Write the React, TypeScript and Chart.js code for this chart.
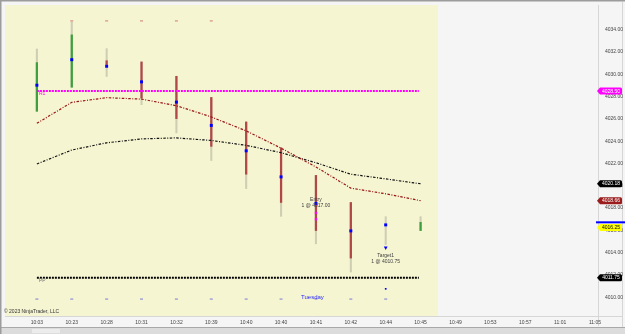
import React, { useEffect, useRef } from 'react';
import { Chart, registerables } from 'chart.js';

Chart.register(...registerables);

// ---------- data ----------
const timeLabels = ['10:03', '10:23', '10:28', '10:31', '10:32', '10:39', '10:40', '10:40', '10:41', '10:42', '10:44', '10:45', '10:49', '10:53', '10:57', '11:01', '11:05'];

const barOpen = [4026.69, 4028.85, 4031.23, 4031.12, 4029.83, 4027.93, 4025.73, 4023.41, 4020.93, 4018.5, 4016.49, 4015.98];
const barHigh = [4032.28, 4034.71, 4032.31, 4031.12, 4029.83, 4027.93, 4025.73, 4023.41, 4020.93, 4018.5, 4017.23, 4017.23];
const barLow = [4026.69, 4028.85, 4029.81, 4027.28, 4024.75, 4022.27, 4019.75, 4017.26, 4014.79, 4012.26, 4014.73, 4015.98];
const barClose = [4031.06, 4033.55, 4030.88, 4027.87, 4026.03, 4023.54, 4021.04, 4018.5, 4015.98, 4013.51, 4016.49, 4016.72];

const blueMarks = [4029.03, 4031.32, 4030.73, 4029.33, 4027.51, 4025.42, 4023.14, 4020.8, 4018.42, 4015.95, 4016.49];

const smaRed = [4025.61, 4027.49, 4027.91, 4027.78, 4027.19, 4026.18, 4024.93, 4023.38, 4021.69, 4019.79, 4019.28, 4018.66];
const smaBlack = [4021.96, 4023.21, 4023.86, 4024.21, 4024.3, 4024.07, 4023.63, 4022.97, 4022.07, 4021.04, 4020.62, 4020.18];

const r1Level = 4028.5;
const ppLevel = 4011.75;
const levelStart = 0;
const levelEnd = 10.95;

const topMarkIdx = [1, 2, 3, 4, 5];
const topMarkValue = 4034.8;
const bottomMarkIdx = [0, 1, 2, 3, 4, 5, 6, 7, 8, 9, 10];
const bottomMarkValue = 4009.83;

const entryIdx = 8;
const entryPrice = 4017.0;
const entryArrowPrice = 4017.56;
const targetIdx = 10;
const targetPrice = 4010.75;
const targetArrowPrice = 4014.44;

const sessionEnd = 11.5;
const dayLabelIdx = 7.9;
const dayLabelValue = 4010.0;

const yTicks = [4010, 4012, 4014, 4016, 4018, 4020, 4022, 4024, 4026, 4028, 4030, 4032, 4034];
const tagValues = [4028.5, 4020.18, 4018.66, 4016.25, 4011.75];
const tagTexts = ['4028.50', '4020.18', '4018.66', '4016.25', '4011.75'];
const askValue = 4016.72;

const xMin = -0.914;
const xMax = 16.086;
const yMin = 4008.31;
const yMax = 4036.23;

// ---------- styles ----------
const FONT = '"Liberation Sans", Arial, sans-serif';
const tagBg = ['#ff00ff', '#000000', '#9b1c1c', '#ffff00', '#000000'];
const tagFg = ['#ffffff', '#ffffff', '#ffffff', '#000000', '#ffffff'];

const decor = {
  id: 'decor',
  beforeDraw(chart: any) {
    const { ctx, chartArea: a, scales } = chart;
    const x = scales.x;
    const W = chart.width;
    const H = chart.height;
    ctx.save();
    ctx.fillStyle = '#f5f5f5';
    ctx.fillRect(0, 0, W, H);
    const xe = x.getPixelForValue(sessionEnd);
    ctx.fillStyle = '#f5f5d2';
    ctx.fillRect(a.left, a.top, xe - a.left, a.bottom - a.top);
    // inner frame
    ctx.strokeStyle = '#d6d6d6';
    ctx.lineWidth = 1;
    ctx.beginPath();
    ctx.moveTo(a.right + 0.5, a.top);
    ctx.lineTo(a.right + 0.5, a.bottom + 10);
    ctx.moveTo(a.left, a.bottom + 0.5);
    ctx.lineTo(W - 3, a.bottom + 0.5);
    ctx.moveTo(W - 2.5, 2);
    ctx.lineTo(W - 2.5, H - 6);
    ctx.stroke();
    // scrollbar
    ctx.fillStyle = '#dcdcdc';
    ctx.fillRect(0, H - 6, W, 6);
    ctx.fillStyle = '#ececec';
    ctx.fillRect(32, H - 5, 28, 4);
    ctx.strokeStyle = '#a8a8a8';
    ctx.beginPath();
    ctx.moveTo(0, H - 6.5);
    ctx.lineTo(W, H - 6.5);
    ctx.stroke();
    // outer border
    ctx.strokeStyle = '#9c9c9c';
    ctx.lineWidth = 1.5;
    ctx.beginPath();
    ctx.moveTo(0.75, H);
    ctx.lineTo(0.75, 0.75);
    ctx.lineTo(W, 0.75);
    ctx.stroke();
    ctx.restore();
  },
  afterDraw(chart: any) {
    const { ctx, chartArea: a, scales } = chart;
    const x = scales.x;
    const y = scales.y;
    const W = chart.width;
    ctx.save();
    ctx.textAlign = 'center';
    ctx.textBaseline = 'middle';

    // level labels
    ctx.font = `5px ${FONT}`;
    ctx.textAlign = 'left';
    ctx.fillStyle = '#ff00ff';
    ctx.fillText('R1', x.getPixelForValue(levelStart) + 2, y.getPixelForValue(r1Level) + 3);
    ctx.fillStyle = '#707070';
    ctx.fillText('PP', x.getPixelForValue(levelStart) + 2, y.getPixelForValue(ppLevel) + 3);

    // entry / target texts
    ctx.textAlign = 'center';
    ctx.fillStyle = '#404040';
    const ex = x.getPixelForValue(entryIdx);
    const ey = y.getPixelForValue(entryPrice);
    ctx.fillText('Entry', ex, ey - 19.5);
    ctx.fillText('1 @ 4017.00', ex, ey - 13.5);
    const tx = x.getPixelForValue(targetIdx);
    const ty = y.getPixelForValue(targetPrice);
    ctx.fillText('Target1', tx, ty - 33.5);
    ctx.fillText('1 @ 4010.75', tx, ty - 27.5);

    // day label
    ctx.font = `6px ${FONT}`;
    ctx.fillStyle = '#2a2aff';
    ctx.fillText('Tuesday', x.getPixelForValue(dayLabelIdx), y.getPixelForValue(dayLabelValue));

    // copyright
    ctx.font = `5px ${FONT}`;
    ctx.textAlign = 'left';
    ctx.fillStyle = '#333333';
    ctx.fillText('\u00a9 2023 NinjaTrader, LLC', 4, a.bottom - 4);

    // ask line
    const ay = y.getPixelForValue(askValue);
    ctx.strokeStyle = '#0000ff';
    ctx.lineWidth = 2;
    ctx.beginPath();
    ctx.moveTo(a.right - 2, ay);
    ctx.lineTo(W, ay);
    ctx.stroke();

    // price tags
    ctx.textAlign = 'center';
    ctx.font = `5px ${FONT}`;
    tagValues.forEach((v, i) => {
      const py = y.getPixelForValue(v);
      const x0 = a.right - 1;
      const x1 = W - 3;
      const h = 3.5;
      ctx.fillStyle = tagBg[i];
      ctx.beginPath();
      ctx.moveTo(x0, py);
      ctx.lineTo(x0 + 3, py - h);
      ctx.lineTo(x1 - 1.5, py - h);
      ctx.quadraticCurveTo(x1, py - h, x1, py - h + 1.5);
      ctx.lineTo(x1, py + h - 1.5);
      ctx.quadraticCurveTo(x1, py + h, x1 - 1.5, py + h);
      ctx.lineTo(x0 + 3, py + h);
      ctx.closePath();
      ctx.fill();
      ctx.fillStyle = tagFg[i];
      ctx.fillText(tagTexts[i], (x0 + x1) / 2 + 1.5, py + 0.3);
    });
    ctx.restore();
  },
};

export default function App() {
  const ref = useRef<HTMLCanvasElement>(null);
  useEffect(() => {
    document.body.style.margin = '0';
    const wickData = barHigh.map((h, i) => ({ x: i, y: [barLow[i], h] }));
    const bodyData = barOpen.map((o, i) => ({ x: i, y: [Math.min(o, barClose[i]), Math.max(o, barClose[i])] }));
    const bodyColors = barOpen.map((o, i) => (barClose[i] >= o ? '#3f9f3f' : '#b04848'));

    const chart = new Chart(ref.current as HTMLCanvasElement, {
      type: 'bar',
      data: {
        datasets: [
          {
            type: 'scatter',
            data: blueMarks.map((v, i) => ({ x: i, y: v })),
            pointStyle: 'rect',
            pointRadius: 2.1,
            backgroundColor: '#0000ff',
            borderWidth: 0,
            order: 0,
          } as any,
          {
            type: 'scatter',
            data: [
              { x: entryIdx, y: entryPrice },
              { x: entryIdx, y: entryArrowPrice },
            ],
            pointStyle: 'rect',
            pointRadius: 1.6,
            backgroundColor: '#ff00ff',
            borderWidth: 0,
            order: 0,
          } as any,
          {
            type: 'scatter',
            data: [{ x: targetIdx, y: targetArrowPrice }],
            pointStyle: 'triangle',
            rotation: 180,
            pointRadius: 2.2,
            backgroundColor: '#0000ff',
            borderColor: '#0000ff',
            borderWidth: 0,
            order: 0,
          } as any,
          {
            type: 'scatter',
            data: [{ x: targetIdx, y: targetPrice }],
            pointStyle: 'rect',
            pointRadius: 1.2,
            backgroundColor: '#0000ff',
            borderWidth: 0,
            order: 0,
          } as any,
          {
            type: 'scatter',
            data: topMarkIdx.map((i) => ({ x: i, y: topMarkValue })),
            pointStyle: 'line',
            pointRadius: 1.5,
            borderColor: '#d07a7a',
            borderWidth: 1,
            order: 0,
          } as any,
          {
            type: 'scatter',
            data: bottomMarkIdx.map((i) => ({ x: i, y: bottomMarkValue })),
            pointStyle: 'line',
            pointRadius: 1.5,
            borderColor: '#7a7ad6',
            borderWidth: 1,
            order: 0,
          } as any,
          {
            type: 'line',
            data: smaRed.map((v, i) => ({ x: i, y: v })),
            borderColor: '#9a1414',
            borderWidth: 1.2,
            borderDash: [2.5, 1.5, 1, 1.5],
            pointRadius: 0,
            tension: 0,
            order: 2,
          } as any,
          {
            type: 'line',
            data: smaBlack.map((v, i) => ({ x: i, y: v })),
            borderColor: '#111111',
            borderWidth: 1.2,
            borderDash: [2.5, 1.5, 1, 1.5],
            pointRadius: 0,
            tension: 0,
            order: 2,
          } as any,
          {
            type: 'line',
            data: [
              { x: levelStart, y: r1Level },
              { x: levelEnd, y: r1Level },
            ],
            borderColor: '#ff00ff',
            borderWidth: 2,
            borderDash: [2, 1],
            pointRadius: 0,
            order: 3,
          } as any,
          {
            type: 'line',
            data: [
              { x: levelStart, y: ppLevel },
              { x: levelEnd, y: ppLevel },
            ],
            borderColor: '#000000',
            borderWidth: 2,
            borderDash: [2, 1],
            pointRadius: 0,
            order: 3,
          } as any,
          {
            type: 'bar',
            data: bodyData,
            backgroundColor: bodyColors,
            barThickness: 1.6,
            grouped: false,
            borderWidth: 0,
            borderSkipped: false,
            order: 4,
          } as any,
          {
            type: 'bar',
            data: wickData,
            backgroundColor: '#cfcdb2',
            barThickness: 1.4,
            grouped: false,
            borderWidth: 0,
            borderSkipped: false,
            order: 5,
          } as any,
        ],
      },
      options: {
        responsive: false,
        animation: false,
        events: [],
        layout: { padding: { left: 3, top: 3, right: 0, bottom: 0 } },
        plugins: { legend: { display: false }, tooltip: { enabled: false } },
        scales: {
          x: {
            type: 'linear',
            min: xMin,
            max: xMax,
            offset: false,
            grid: { display: false, drawTicks: false },
            border: { display: false },
            afterBuildTicks: (axis: any) => {
              axis.ticks = timeLabels.map((_, i) => ({ value: i }));
            },
            afterFit: (axis: any) => {
              axis.height = 18;
              axis.paddingLeft = 0;
              axis.paddingRight = 0;
            },
            ticks: {
              autoSkip: false,
              maxRotation: 0,
              minRotation: 0,
              padding: 4,
              color: '#444444',
              font: { family: FONT, size: 5 },
              callback: (v: any) => timeLabels[Math.round(v)] ?? '',
            },
          },
          y: {
            type: 'linear',
            position: 'right',
            min: yMin,
            max: yMax,
            grid: { display: false, drawTicks: false },
            border: { display: false },
            afterBuildTicks: (axis: any) => {
              axis.ticks = yTicks.map((v) => ({ value: v }));
            },
            afterFit: (axis: any) => {
              axis.width = 27;
              axis.paddingTop = 0;
              axis.paddingBottom = 0;
            },
            ticks: {
              padding: 7,
              color: '#444444',
              font: { family: FONT, size: 5 },
              callback: (v: any) => Number(v).toFixed(2),
            },
          },
        },
      } as any,
      plugins: [decor],
    } as any);
    return () => chart.destroy();
  }, []);
  return (
    <div style={{ width: 625, height: 334 }}>
      <canvas ref={ref} width={625} height={334} style={{ display: 'block' }} />
    </div>
  );
}
